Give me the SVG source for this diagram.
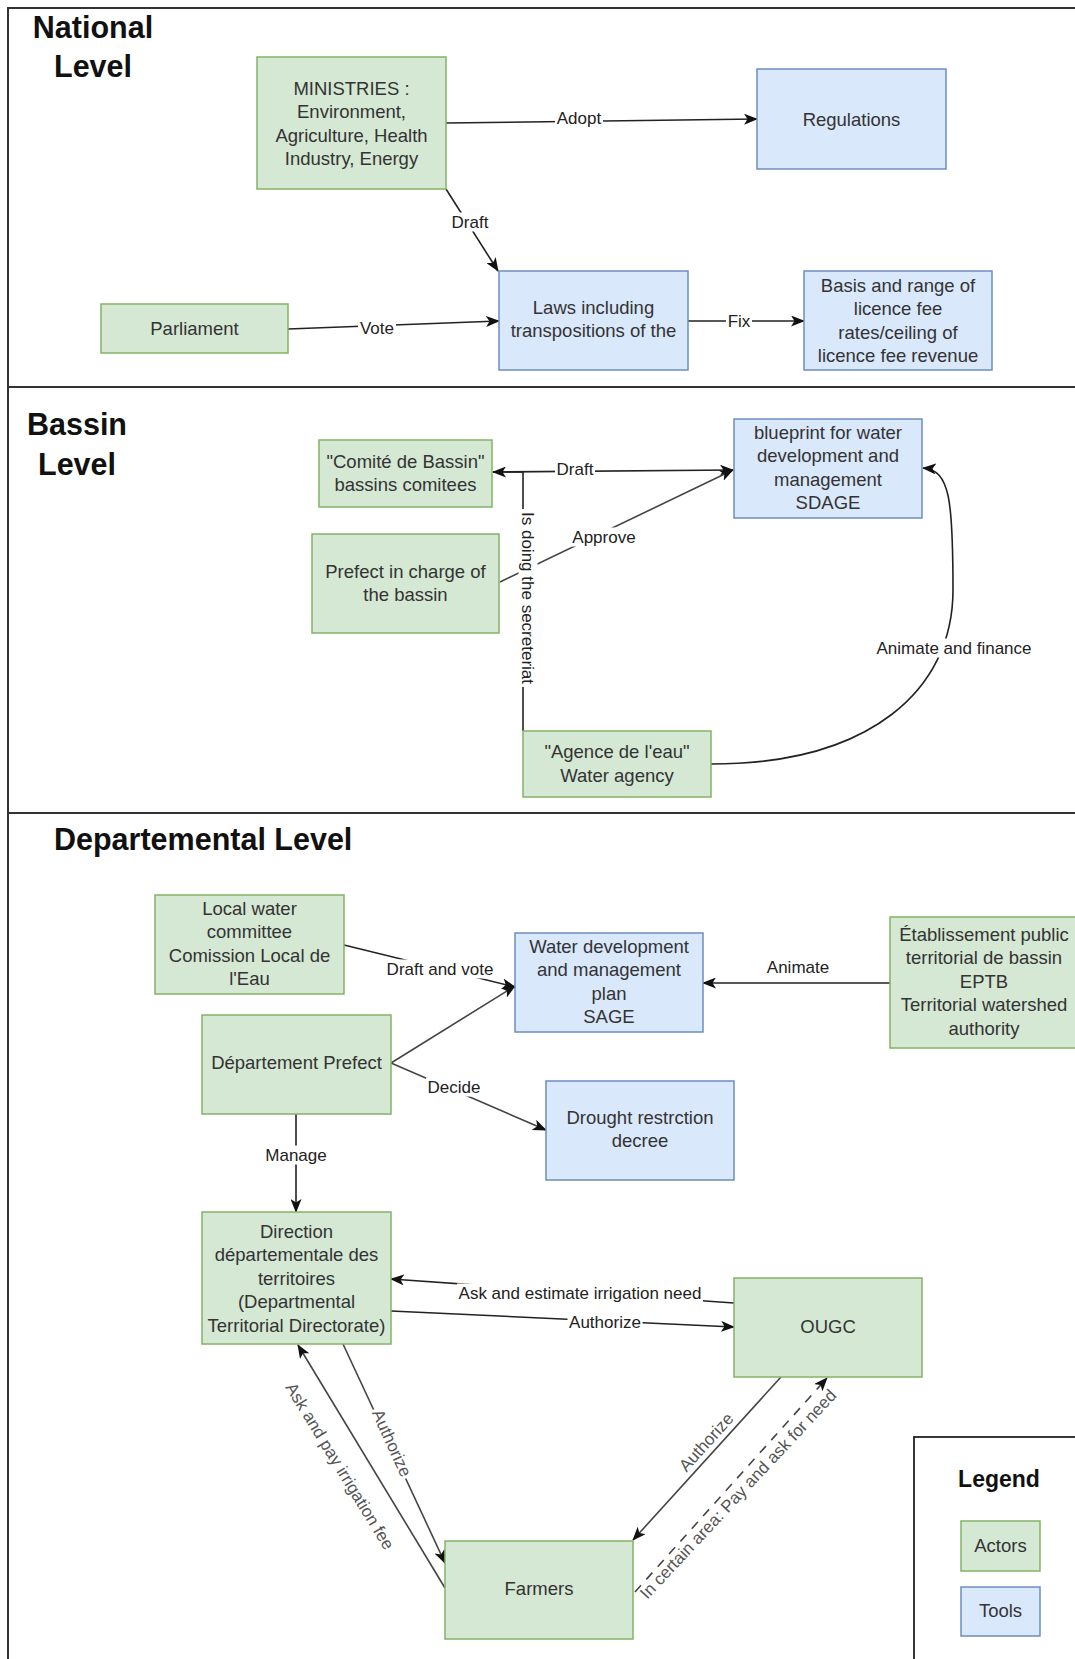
<svg xmlns="http://www.w3.org/2000/svg" width="1075" height="1659" viewBox="0 0 1075 1659">
<style>
  text { font-family: "Liberation Sans", Arial, Helvetica, sans-serif; }
  .title { font-size: 30.5px; font-weight: bold; fill: #111; }
  .legend-title { font-size: 23px; font-weight: bold; fill: #111; text-anchor: middle; }
  .actor { fill: #d5e8d4; stroke: #82b366; stroke-width: 1.5; }
  .tool { fill: #dae8fc; stroke: #6c8ebf; stroke-width: 1.5; }
  .nt { font-size: 18.5px; fill: #333; text-anchor: middle; }
  .edge { fill: none; stroke: #222; stroke-width: 1.6; }
  .edge-g { fill: none; stroke: #444; stroke-width: 1.6; }
  .dash { stroke-dasharray: 9 8; }
  .bg { fill: #fff; stroke: none; }
  .lbl { font-size: 17px; fill: #222; text-anchor: middle; }
  .lbl-g { font-size: 17px; fill: #555; text-anchor: middle; }
  .frame { fill: none; stroke: #333; stroke-width: 2; }
</style>
<defs>
  <marker id="arr" viewBox="0 0 14 11" refX="13" refY="5.5" markerWidth="14" markerHeight="11" markerUnits="userSpaceOnUse" orient="auto-start-reverse">
    <path d="M0,0 L14,5.5 L0,11 L3.5,5.5 Z" fill="#111"/>
  </marker>
</defs>
<rect width="1075" height="1659" fill="#fff"/>

<g id="frame">
  <rect class="frame" x="8" y="8" width="1100" height="1700"/>
  <line class="frame" x1="8" y1="387" x2="1075" y2="387"/>
  <line class="frame" x1="8" y1="813" x2="1075" y2="813"/>
  <text class="title" x="93" y="38" text-anchor="middle">National</text>
  <text class="title" x="93" y="77" text-anchor="middle">Level</text>
  <text class="title" x="77" y="435" text-anchor="middle">Bassin</text>
  <text class="title" x="77" y="475" text-anchor="middle">Level</text>
  <text class="title" x="54" y="850">Departemental Level</text>
</g>

<g id="connectors">
  <!-- National -->
  <line class="edge" x1="446" y1="123" x2="757" y2="119" marker-end="url(#arr)"/>
  <line class="edge" x1="446" y1="189" x2="498" y2="271" marker-end="url(#arr)"/>
  <line class="edge" x1="288" y1="329" x2="499" y2="321" marker-end="url(#arr)"/>
  <line class="edge" x1="688" y1="321" x2="804" y2="321" marker-end="url(#arr)"/>
  <rect class="bg" x="555" y="108.5" width="48" height="19"/>
  <text class="lbl" x="579" y="124">Adopt</text>
  <rect class="bg" x="450" y="212.5" width="40" height="19"/>
  <text class="lbl" x="470" y="228">Draft</text>
  <rect class="bg" x="358" y="318.5" width="38" height="19"/>
  <text class="lbl" x="377" y="334">Vote</text>
  <rect class="bg" x="726" y="311.5" width="26" height="19"/>
  <text class="lbl" x="739" y="327">Fix</text>

  <!-- Bassin -->
  <line class="edge" x1="493" y1="472" x2="733" y2="470" marker-end="url(#arr)"/>
  <path class="edge" d="M523,731 L523,472 L493,472" marker-end="url(#arr)"/>
  <line class="edge-g" x1="500" y1="582" x2="733" y2="470" marker-end="url(#arr)"/>
  <path class="edge" d="M711,764 C870,764 953,690 953,590 C953,500 950,470 923,468" marker-end="url(#arr)"/>
  <rect class="bg" x="555" y="459.5" width="40" height="19"/>
  <text class="lbl" x="575" y="475">Draft</text>
  <rect class="bg" x="571" y="527.5" width="66" height="19"/>
  <text class="lbl" x="604" y="543">Approve</text>
  <g transform="translate(528,598) rotate(90)">
    <rect class="bg" x="-89" y="-9.5" width="178" height="19"/>
    <text class="lbl" x="0" y="6">Is doing the secreteriat</text>
  </g>
  <rect class="bg" x="875" y="638.5" width="158" height="19"/>
  <text class="lbl" x="954" y="654">Animate and finance</text>

  <!-- Departemental -->
  <line class="edge" x1="344" y1="945" x2="515" y2="987" marker-end="url(#arr)"/>
  <line class="edge-g" x1="391" y1="1063" x2="515" y2="986" marker-end="url(#arr)"/>
  <line class="edge-g" x1="391" y1="1063" x2="546" y2="1130" marker-end="url(#arr)"/>
  <line class="edge" x1="890" y1="983" x2="703" y2="983" marker-end="url(#arr)"/>
  <line class="edge" x1="296" y1="1114" x2="296" y2="1212" marker-end="url(#arr)"/>
  <line class="edge" x1="734" y1="1303" x2="391" y2="1279" marker-end="url(#arr)"/>
  <line class="edge" x1="391" y1="1311" x2="734" y2="1327" marker-end="url(#arr)"/>
  <line class="edge-g" x1="343" y1="1344" x2="445" y2="1563" marker-end="url(#arr)"/>
  <line class="edge-g" x1="445" y1="1588" x2="298" y2="1345" marker-end="url(#arr)"/>
  <line class="edge-g" x1="781" y1="1377" x2="633" y2="1540" marker-end="url(#arr)"/>
  <line class="edge-g dash" x1="635" y1="1592" x2="827" y2="1378" marker-end="url(#arr)"/>
  <rect class="bg" x="385" y="959.5" width="110" height="19"/>
  <text class="lbl" x="440" y="975">Draft and vote</text>
  <rect class="bg" x="426" y="1077.5" width="56" height="19"/>
  <text class="lbl" x="454" y="1093">Decide</text>
  <text class="lbl" x="798" y="973">Animate</text>
  <rect class="bg" x="264" y="1145.5" width="64" height="19"/>
  <text class="lbl" x="296" y="1161">Manage</text>
  <rect class="bg" x="457" y="1283.5" width="246" height="19"/>
  <text class="lbl" x="580" y="1299">Ask and estimate irrigation need</text>
  <rect class="bg" x="567.5" y="1312.5" width="75" height="19"/>
  <text class="lbl" x="605" y="1328">Authorize</text>
  <g transform="translate(392,1443) rotate(65.5)">
    <rect class="bg" x="-38" y="-9.5" width="76" height="19"/>
    <text class="lbl-g" x="0" y="6">Authorize</text>
  </g>
  <text class="lbl-g" transform="translate(340,1466) rotate(58.6)" x="0" y="6">Ask and pay irrigation fee</text>
  <text class="lbl-g" transform="translate(706,1442) rotate(-48)" x="0" y="6">Authorize</text>
  <text class="lbl-g" transform="translate(738,1494) rotate(-47)" x="0" y="6">In certain area: Pay and ask for need</text>
</g>

<!-- National nodes -->
<g id="ministries">
  <rect class="actor" x="257" y="57" width="189" height="132"/>
  <text class="nt" x="351.5" y="95"><tspan x="351.5">MINISTRIES :</tspan><tspan x="351.5" dy="23.4">Environment,</tspan><tspan x="351.5" dy="23.4">Agriculture, Health</tspan><tspan x="351.5" dy="23.4">Industry, Energy</tspan></text>
</g>
<g id="regulations">
  <rect class="tool" x="757" y="69" width="189" height="100"/>
  <text class="nt" x="851.5" y="125.5">Regulations</text>
</g>
<g id="laws">
  <rect class="tool" x="499" y="271" width="189" height="99"/>
  <text class="nt" x="593.5" y="314"><tspan x="593.5">Laws including</tspan><tspan x="593.5" dy="23.4">transpositions of the</tspan></text>
</g>
<g id="parliament">
  <rect class="actor" x="101" y="304" width="187" height="49"/>
  <text class="nt" x="194.5" y="334.5">Parliament</text>
</g>
<g id="basis">
  <rect class="tool" x="804" y="271" width="188" height="99"/>
  <text class="nt" x="898" y="292"><tspan x="898">Basis and range of</tspan><tspan x="898" dy="23.4">licence fee</tspan><tspan x="898" dy="23.4">rates/ceiling of</tspan><tspan x="898" dy="23.4">licence fee revenue</tspan></text>
</g>

<!-- Bassin nodes -->
<g id="comite">
  <rect class="actor" x="319" y="440" width="173" height="67"/>
  <text class="nt" x="405.5" y="468"><tspan x="405.5">"Comité de Bassin"</tspan><tspan x="405.5" dy="23.4">bassins comitees</tspan></text>
</g>
<g id="sdage">
  <rect class="tool" x="734" y="419" width="188" height="99"/>
  <text class="nt" x="828" y="439"><tspan x="828">blueprint for water</tspan><tspan x="828" dy="23.4">development and</tspan><tspan x="828" dy="23.4">management</tspan><tspan x="828" dy="23.4">SDAGE</tspan></text>
</g>
<g id="prefect-bassin">
  <rect class="actor" x="312" y="534" width="187" height="99"/>
  <text class="nt" x="405.5" y="578"><tspan x="405.5">Prefect in charge of</tspan><tspan x="405.5" dy="23.4">the bassin</tspan></text>
</g>
<g id="agence">
  <rect class="actor" x="523" y="731" width="188" height="66"/>
  <text class="nt" x="617" y="758"><tspan x="617">"Agence de l'eau"</tspan><tspan x="617" dy="23.8">Water agency</tspan></text>
</g>

<!-- Departemental nodes -->
<g id="local-water">
  <rect class="actor" x="155" y="895" width="189" height="99"/>
  <text class="nt" x="249.5" y="915"><tspan x="249.5">Local water</tspan><tspan x="249.5" dy="23.4">committee</tspan><tspan x="249.5" dy="23.4">Comission Local de</tspan><tspan x="249.5" dy="23.4">l'Eau</tspan></text>
</g>
<g id="dept-prefect">
  <rect class="actor" x="202" y="1015" width="189" height="99"/>
  <text class="nt" x="296.5" y="1069">Département Prefect</text>
</g>
<g id="sage">
  <rect class="tool" x="515" y="933" width="188" height="99"/>
  <text class="nt" x="609" y="953"><tspan x="609">Water development</tspan><tspan x="609" dy="23.4">and management</tspan><tspan x="609" dy="23.4">plan</tspan><tspan x="609" dy="23.4">SAGE</tspan></text>
</g>
<g id="eptb">
  <rect class="actor" x="890" y="917" width="188" height="131"/>
  <text class="nt" x="984" y="941"><tspan x="984">Établissement public</tspan><tspan x="984" dy="23.4">territorial de bassin</tspan><tspan x="984" dy="23.4">EPTB</tspan><tspan x="984" dy="23.4">Territorial watershed</tspan><tspan x="984" dy="23.4">authority</tspan></text>
</g>
<g id="drought">
  <rect class="tool" x="546" y="1081" width="188" height="99"/>
  <text class="nt" x="640" y="1124"><tspan x="640">Drought restrction</tspan><tspan x="640" dy="23.4">decree</tspan></text>
</g>
<g id="ddt">
  <rect class="actor" x="202" y="1212" width="189" height="132"/>
  <text class="nt" x="296.5" y="1238"><tspan x="296.5">Direction</tspan><tspan x="296.5" dy="23.4">départementale des</tspan><tspan x="296.5" dy="23.4">territoires</tspan><tspan x="296.5" dy="23.4">(Departmental</tspan><tspan x="296.5" dy="23.4">Territorial Directorate)</tspan></text>
</g>
<g id="ougc">
  <rect class="actor" x="734" y="1278" width="188" height="99"/>
  <text class="nt" x="828" y="1333">OUGC</text>
</g>
<g id="farmers">
  <rect class="actor" x="445" y="1541" width="188" height="98"/>
  <text class="nt" x="539" y="1595">Farmers</text>
</g>

<!-- Legend -->
<g id="legend">
  <rect x="914" y="1437" width="200" height="300" fill="#fff" stroke="#222" stroke-width="1.8"/>
  <text class="legend-title" x="999" y="1487">Legend</text>
  <g id="legend-actors">
    <rect class="actor" x="961" y="1521" width="79" height="50"/>
    <text class="nt" x="1000.5" y="1551.5">Actors</text>
  </g>
  <g id="legend-tools">
    <rect class="tool" x="961" y="1587" width="79" height="49"/>
    <text class="nt" x="1000.5" y="1616.5">Tools</text>
  </g>
</g>
</svg>
